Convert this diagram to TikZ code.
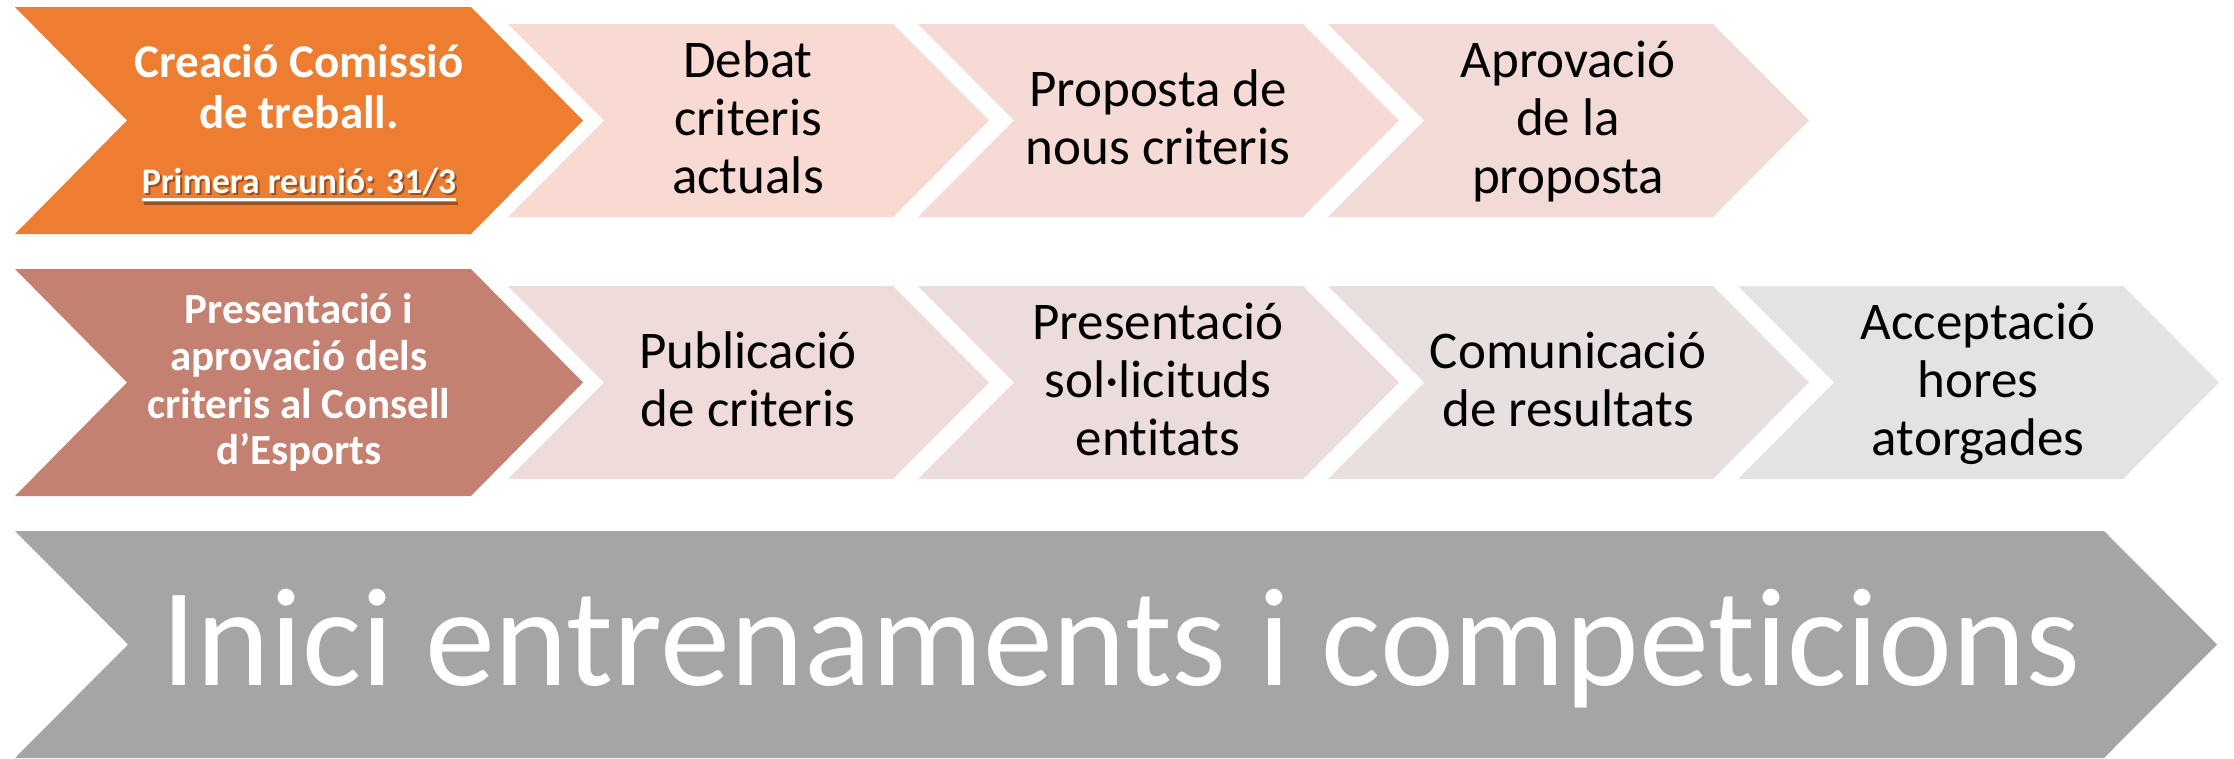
\documentclass[tikz,border=0pt]{standalone}
\usepackage{fontspec}
\setmainfont{Carlito}[Ligatures={NoCommon,NoRare,NoContextual}]
\definecolor{corange}{HTML}{ED7D31}
\definecolor{cbrown}{HTML}{C48070}
\definecolor{cpinkA}{HTML}{F8DAD3}
\definecolor{cpinkB}{HTML}{F6DAD5}
\definecolor{cpinkC}{HTML}{F2DAD7}
\definecolor{crowA}{HTML}{EEDBDA}
\definecolor{crowB}{HTML}{ECDDDC}
\definecolor{crowC}{HTML}{E8E0DE}
\definecolor{crowD}{HTML}{E4E3E3}
\definecolor{cgray}{HTML}{A5A5A5}
\begin{document}
\begin{tikzpicture}[x=1pt,y=-1pt,
  dark/.style={anchor=base,inner sep=0pt,text=black,font=\fontsize{53}{58}\selectfont},
  wtitle/.style={anchor=base,inner sep=0pt,text=white,font=\bfseries\fontsize{47}{51}\selectfont},
  wsub/.style={anchor=base,inner sep=0pt,text=white,font=\bfseries\fontsize{36}{40}\selectfont},
  wbrown/.style={anchor=base,inner sep=0pt,text=white,font=\bfseries\fontsize{43}{47}\selectfont},
  wbig/.style={anchor=base,inner sep=0pt,text=white,font=\fontsize{140}{150}\selectfont}]
\useasboundingbox (0,0) rectangle (2234,758);
% big chevrons
\fill[corange] (15,7) -- (471,7) -- (583,120.5) -- (471,234) -- (15,234) -- (127,120.5) -- cycle;
\fill[cbrown] (15,269) -- (471,269) -- (583,382.5) -- (471,496) -- (15,496) -- (127,382.5) -- cycle;
\fill[cgray] (15,531) -- (2104,531) -- (2217,644.5) -- (2104,758) -- (15,758) -- (128,644.5) -- cycle;
% row 1 chevrons
\foreach \L/\c in {508/cpinkA,918/cpinkB,1328/cpinkC}{
  \fill[\c] (\L,24) -- ({\L+385},24) -- ({\L+481},120.5) -- ({\L+385},217) -- (\L,217) -- ({\L+96},120.5) -- cycle;}
% row 2 chevrons
\foreach \L/\c in {508/crowA,918/crowB,1328/crowC,1738/crowD}{
  \fill[\c] (\L,286) -- ({\L+385},286) -- ({\L+481},382.5) -- ({\L+385},479) -- (\L,479) -- ({\L+96},382.5) -- cycle;}
% orange text
\node[wtitle] (o1) at (299,77) {Creació Comissió};
\node[wtitle] (o2) at (299,128) {de treball.};
\node[wsub,text=black,opacity=0.35] (o3s) at (301,195) {Primera reunió: 31/3};
\draw[black,opacity=0.35,line width=2.4pt] ([yshift=-8.5pt]o3s.base west) -- ([yshift=-8.5pt]o3s.base east);
\node[wsub] (o3) at (299,193) {Primera reunió: 31/3};
\draw[white,line width=2.4pt] ([yshift=-6.5pt]o3.base west) -- ([yshift=-6.5pt]o3.base east);
% brown text
\node[wbrown] (b1) at (299,323) {Presentació i};
\node[wbrown] (b2) at (299,370) {aprovació dels};
\node[wbrown] (b3) at (299,418) {criteris al Consell};
\node[wbrown] (b4) at (299,464) {d’Esports};
% row 1 text
\node[dark] (d1) at (748,77) {Debat};
\node[dark] (d2) at (748,135) {criteris};
\node[dark] (d3) at (748,193) {actuals};
\node[dark] (p1) at (1158,106) {Proposta de};
\node[dark] (p2) at (1158,164) {nous criteris};
\node[dark] (a1) at (1568,77) {Aprovació};
\node[dark] (a2) at (1568,135) {de la};
\node[dark] (a3) at (1568,193) {proposta};
% row 2 text
\node[dark] (u1) at (748,368) {Publicació};
\node[dark] (u2) at (748,426) {de criteris};
\node[dark] (s1) at (1158,339) {Presentació};
\node[dark] (s2) at (1158,397) {sol·licituds};
\node[dark] (s3) at (1158,455) {entitats};
\node[dark] (c1) at (1568,368) {Comunicació};
\node[dark] (c2) at (1568,426) {de resultats};
\node[dark] (h1) at (1978,339) {Acceptació};
\node[dark] (h2) at (1978,397) {hores};
\node[dark] (h3) at (1978,455) {atorgades};
% bottom text
\node[wbig] (big) at (1121,685) {Inici entrenaments i competicions};
\end{tikzpicture}
\end{document}
